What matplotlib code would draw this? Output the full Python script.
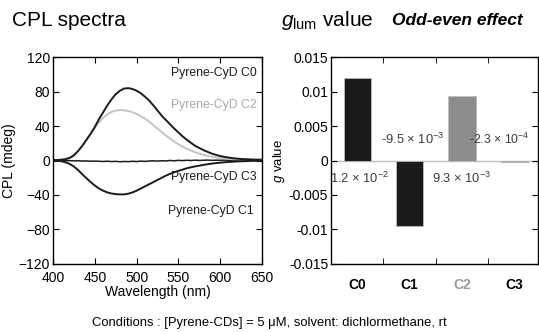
import numpy as np
import matplotlib
matplotlib.use("Agg")
import matplotlib.pyplot as plt

plt.rcParams['font.family'] = ['Liberation Sans', 'DejaVu Sans']
plt.rcParams['mathtext.fontset'] = 'custom'
plt.rcParams['mathtext.rm'] = 'Liberation Sans'
plt.rcParams['mathtext.it'] = 'Liberation Sans:italic'
plt.rcParams['mathtext.default'] = 'regular'

# CPL spectra (mdeg), 5 nm steps
wavelength = np.arange(400, 651, 5)
cpl_c0 = [0.5, 0.5, 0.8, 1.5, 3, 6, 11, 17, 24, 31, 39, 48, 56, 64, 71, 77, 81, 83.5, 84, 83,
          81, 78, 74, 69.5, 64, 58, 52, 47, 42, 37, 32.5, 28, 24, 20.5, 17, 14.5, 12, 10, 8,
          6.5, 5.2, 4.2, 3.4, 2.7, 2.2, 1.8, 1.5, 1.3, 1.1, 1.0, 0.9]
cpl_c2 = [0.5, 0.7, 1.2, 2, 3.5, 6.5, 11, 17, 24, 31, 38, 44, 49.5, 53.5, 56.5, 58, 58.5, 58.3,
          57.5, 56, 54, 51.5, 48.5, 45, 41, 37, 33, 29, 25.5, 22, 19, 16, 13.5, 11.5, 9.5, 8,
          6.5, 5.3, 4.3, 3.5, 2.8, 2.3, 1.9, 1.6, 1.3, 1.1, 1.0, 0.9, 0.8, 0.7, 0.7]
cpl_c1 = [0, -0.3, -0.8, -2, -4, -7, -11, -16, -20.5, -25, -29, -32.5, -35, -37, -38.3, -39,
          -39.3, -39.3, -38.5, -37, -35, -32.5, -30, -27.5, -25, -22.5, -20, -17.5, -15.5,
          -13.5, -12, -10.5, -9, -7.8, -6.8, -6, -5, -4.3, -3.6, -3, -2.5, -2, -1.7, -1.4,
          -1.1, -0.9, -0.7, -0.5, -0.4, -0.3, -0.2]
cpl_c3 = [0.3, 0.2, 0, -0.2, -0.1, -0.4, -0.3, -0.6, -0.5, -0.8, -0.6, -0.9, -1.1, -0.8, -1.2,
          -1.0, -1.4, -1.1, -1.3, -0.9, -1.2, -0.7, -1.0, -0.6, -0.3, -0.7, -0.2, -0.5, 0.1,
          -0.3, 0.2, -0.1, 0.3, 0.0, 0.4, 0.1, 0.3, 0.5, 0.2, 0.4, 0.3, 0.5, 0.2, 0.4, 0.3,
          0.4, 0.3, 0.4, 0.3, 0.4, 0.3]

# g_lum values
categories = ['C0', 'C1', 'C2', 'C3']
g_values = [0.012, -0.0095, 0.0093, -0.00023]
g_labels = [r'1.2 × 10$^{-2}$', r'-9.5 × 10$^{-3}$', r'9.3 × 10$^{-3}$', r'-2.3 × 10$^{-4}$']

dark = '#1c1a1b'
fig = plt.figure(figsize=(5.39, 3.32), dpi=100)

# ---- left: CPL spectra
ax1 = fig.add_axes([0.0983, 0.205, 0.388, 0.623])
ax1.plot(wavelength, cpl_c3, color=dark, lw=1.1)
ax1.plot(wavelength, cpl_c2, color='#c4c4c4', lw=1.4)
ax1.plot(wavelength, cpl_c1, color=dark, lw=1.4)
ax1.plot(wavelength, cpl_c0, color=dark, lw=1.4)
ax1.set_xlim(400, 650)
ax1.set_ylim(-120, 120)
ax1.set_xticks(np.arange(400, 651, 50))
ax1.set_yticks(np.arange(-120, 121, 40))
ax1.tick_params(direction='in', top=True, right=True, length=4, labelsize=10)
ax1.tick_params(axis='x', pad=5)
ax1.tick_params(axis='y', pad=2)
ax1.set_xlabel('Wavelength (nm)', fontsize=10, labelpad=0)
ax1.set_ylabel('CPL (mdeg)', fontsize=10, labelpad=2)
for s in ax1.spines.values():
    s.set_linewidth(1.0)
lab_kw = dict(ha='right', va='center', fontsize=8.8)
ax1.text(644, 101, 'Pyrene-CyD C0', color=dark, **lab_kw)
ax1.text(644, 64, 'Pyrene-CyD C2', color='#a8a8a8', **lab_kw)
ax1.text(644, -19, 'Pyrene-CyD C3', color=dark, **lab_kw)
ax1.text(640, -59, 'Pyrene-CyD C1', color=dark, **lab_kw)

# ---- right: g values
ax2 = fig.add_axes([0.614, 0.205, 0.384, 0.623])
x = np.arange(1, 5)
ax2.axhline(0, color='#c0c0c0', lw=1.0, zorder=1)
ax2.bar(x, g_values, width=0.52, color=[dark, dark, '#8c8c8c', dark],
        edgecolor='#bdbdbd', linewidth=0.6, zorder=2)
ax2.set_xlim(0.5, 4.45)
ax2.set_ylim(-0.015, 0.015)
ax2.set_yticks([-0.015, -0.01, -0.005, 0, 0.005, 0.01, 0.015])
ax2.set_yticklabels(['-0.015', '-0.01', '-0.005', '0', '0.005', '0.01', '0.015'])
ax2.set_xticks(x)
ax2.set_xticklabels(categories, fontweight='bold', fontsize=10)
ax2.get_xticklabels()[2].set_color('#9a9a9a')
ax2.set_xticks([1.5, 2.5, 3.5], minor=True)
ax2.tick_params(axis='x', which='major', length=0, pad=10)
ax2.tick_params(axis='x', which='minor', direction='in', top=True, bottom=True, length=4)
ax2.tick_params(axis='y', direction='in', right=True, length=4, labelsize=10, pad=2)
ax2.set_ylabel(r'$\mathit{g}$ value', fontsize=9.5, labelpad=1)
for s in ax2.spines.values():
    s.set_linewidth(1.0)
label_pos = [(1.05, -0.0026), (2.05, 0.0031), (3.0, -0.0026), (3.72, 0.0031)]
label_size = [9.3, 9.3, 9.3, 8.8]
for (lx, ly), t, fs in zip(label_pos, g_labels, label_size):
    ax2.text(lx, ly, t, ha='center', va='center', fontsize=fs, color='#3a3a3a',
             clip_on=False, zorder=3)

# ---- headings and footer
fig.text(0.022, 0.937, 'CPL spectra', fontsize=15, ha='left', va='center')
fig.text(0.522, 0.937, r'$\mathit{g}_{\mathrm{lum}}$ value', fontsize=15, ha='left', va='center')
fig.text(0.727, 0.937, 'Odd-even effect', fontsize=12.5, fontweight='bold', style='italic',
         ha='left', va='center')
fig.text(0.5, 0.028, 'Conditions : [Pyrene-CDs] = 5 μM, solvent: dichlormethane, rt',
         fontsize=9.4, ha='center', va='center')

fig.savefig('out.png', dpi=100)
